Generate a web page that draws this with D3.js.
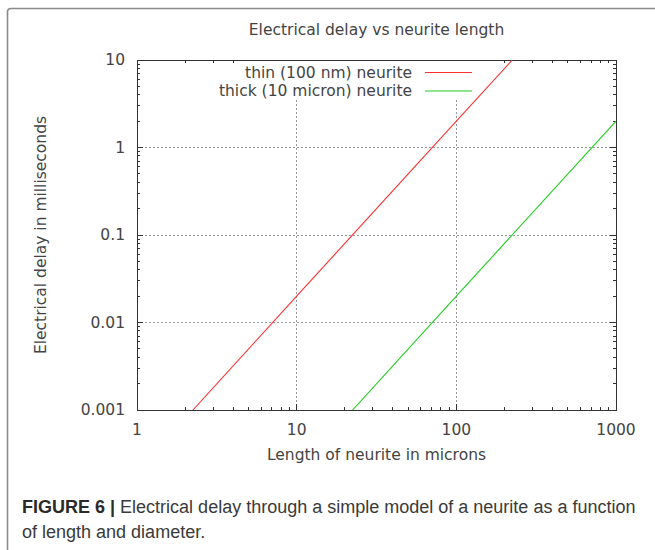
<!DOCTYPE html>
<html>
<head>
<meta charset="utf-8">
<script src="https://cdn.jsdelivr.net/npm/d3@7"></script>
<style>
  body { margin: 0; background: #fff; }
  svg text { font-family: "DejaVu Sans", sans-serif; }
  svg text.cap { font-family: "Liberation Sans", Arial, sans-serif; }
</style>
</head>
<body>
<div id="chart"></div>
<script>
// values (delay grows with length squared)
var thinX = [2.24, 10, 100, 224];
var thinY = [0.001, 0.02, 2, 10];
var thickX = [22.4, 100, 1000];
var thickY = [0.001, 0.02, 2];

var xTicks = [1, 10, 100, 1000];
var xTickLabels = ['1', '10', '100', '1000'];
var yTicks = [0.001, 0.01, 0.1, 1, 10];
var yTickLabels = ['0.001', '0.01', '0.1', '1', '10'];

var seriesNames = ['thin (100 nm) neurite', 'thick (10 micron) neurite'];
var seriesColors = ['#ff3030', '#22cc22'];

var W = 655, H = 550;
var margins = { top: 60, right: 39, bottom: 140, left: 137 };
var w = W - margins.left - margins.right;
var h = H - margins.top - margins.bottom;

var svg = d3.select('#chart').append('svg')
    .attr('width', W)
    .attr('height', H);

// figure frame (only top and left edges are inside the crop)
svg.append('path')
    .attr('d', 'M7.5,550 L7.5,12 Q7.5,8.5 11,8.5 L655,8.5')
    .attr('fill', 'none')
    .attr('stroke', '#8a8a8a')
    .attr('stroke-width', 1.6);

var x = d3.scaleLog().domain([1, 1000]).range([0, w]);
var y = d3.scaleLog().domain([0.001, 10]).range([h, 0]);

var g = svg.append('g')
    .attr('transform', 'translate(' + margins.left + ',' + margins.top + ')');

// grid
g.selectAll('line.gx')
    .data(xTicks.slice(1, -1))
    .enter().append('line')
    .attr('class', 'gx')
    .attr('x1', function (d) { return x(d); })
    .attr('x2', function (d) { return x(d); })
    .attr('y1', 0).attr('y2', h);
g.selectAll('line.gy')
    .data(yTicks.slice(1, -1))
    .enter().append('line')
    .attr('class', 'gy')
    .attr('y1', function (d) { return y(d); })
    .attr('y2', function (d) { return y(d); })
    .attr('x1', 0).attr('x2', w);
g.selectAll('line.gx, line.gy')
    .attr('stroke', '#999')
    .attr('stroke-width', 1)
    .attr('stroke-dasharray', '1.5,2.5')
    .attr('shape-rendering', 'crispEdges');

// minor + major ticks, pointing inward on all four sides
function minors (domain) {
    var out = [];
    for (var e = Math.log10(domain[0]); e < Math.log10(domain[1]); e++) {
        for (var k = 1; k < 10; k++) out.push({ v: k * Math.pow(10, e), major: k === 1 });
    }
    out.push({ v: domain[1], major: true });
    return out;
}
var xm = minors(x.domain());
var ym = minors(y.domain());
var tickG = g.append('g')
    .attr('stroke', '#333')
    .attr('stroke-width', 1)
    .attr('shape-rendering', 'crispEdges');
xm.forEach(function (d) {
    var len = d.major ? 6 : 3;
    tickG.append('line').attr('x1', x(d.v)).attr('x2', x(d.v)).attr('y1', h).attr('y2', h - len);
    tickG.append('line').attr('x1', x(d.v)).attr('x2', x(d.v)).attr('y1', 0).attr('y2', len);
});
ym.forEach(function (d) {
    var len = d.major ? 6 : 3;
    tickG.append('line').attr('y1', y(d.v)).attr('y2', y(d.v)).attr('x1', 0).attr('x2', len);
    tickG.append('line').attr('y1', y(d.v)).attr('y2', y(d.v)).attr('x1', w).attr('x2', w - len);
});

// legend background hides the grid behind it
g.append('rect')
    .attr('x', 100).attr('y', 1)
    .attr('width', 240).attr('height', 38)
    .attr('fill', '#fff');

// border
g.append('rect')
    .attr('width', w).attr('height', h)
    .attr('fill', 'none')
    .attr('stroke', '#333')
    .attr('stroke-width', 1)
    .attr('shape-rendering', 'crispEdges');

// lines
g.append('clipPath').attr('id', 'plotclip')
    .append('rect').attr('width', w).attr('height', h);

var line = d3.line()
    .x(function (d) { return x(d[0]); })
    .y(function (d) { return y(d[1]); });

var series = [d3.zip(thinX, thinY), d3.zip(thickX, thickY)];
g.selectAll('path.series')
    .data(series)
    .enter().append('path')
    .attr('class', 'series')
    .attr('clip-path', 'url(#plotclip)')
    .attr('d', line)
    .attr('fill', 'none')
    .attr('stroke', function (d, i) { return seriesColors[i]; })
    .attr('stroke-width', 1.1);

// tick labels
var fs = 15.5;
var txt = '#444';
g.selectAll('text.xl')
    .data(xTicks)
    .enter().append('text')
    .attr('class', 'xl')
    .attr('x', function (d) { return x(d); })
    .attr('y', h + 20)
    .attr('dy', '0.35em')
    .attr('text-anchor', 'middle')
    .text(function (d, i) { return xTickLabels[i]; });
g.selectAll('text.yl')
    .data(yTicks)
    .enter().append('text')
    .attr('class', 'yl')
    .attr('x', -12)
    .attr('y', function (d) { return y(d); })
    .attr('dy', '0.35em')
    .attr('text-anchor', 'end')
    .text(function (d, i) { return yTickLabels[i]; });

// legend
var leg = g.selectAll('g.leg')
    .data(seriesNames)
    .enter().append('g')
    .attr('class', 'leg')
    .attr('transform', function (d, i) { return 'translate(0,' + (12.5 + i * 18.5) + ')'; });
leg.append('text')
    .attr('x', 275)
    .attr('dy', '0.35em')
    .attr('text-anchor', 'end')
    .text(function (d) { return d; });
leg.append('line')
    .attr('x1', 288).attr('x2', 335)
    .attr('stroke', function (d, i) { return seriesColors[i]; })
    .attr('stroke-width', 1.1);

g.selectAll('text')
    .attr('font-size', fs)
    .attr('fill', txt);

// titles
svg.append('text')
    .attr('x', margins.left + w / 2).attr('y', 30)
    .attr('dy', '0.35em')
    .attr('text-anchor', 'middle')
    .attr('font-size', fs).attr('fill', txt)
    .text('Electrical delay vs neurite length');
svg.append('text')
    .attr('x', margins.left + w / 2).attr('y', 455)
    .attr('dy', '0.35em')
    .attr('text-anchor', 'middle')
    .attr('font-size', fs).attr('fill', txt)
    .text('Length of neurite in microns');
svg.append('text')
    .attr('transform', 'translate(41,' + (margins.top + h / 2) + ') rotate(-90)')
    .attr('dy', '0.35em')
    .attr('text-anchor', 'middle')
    .attr('font-size', fs).attr('fill', txt)
    .text('Electrical delay in milliseconds');

// caption, squeezed horizontally to the condensed journal face
var cap = svg.append('g').attr('class', 'caption');
var l1 = cap.append('text')
    .attr('class', 'cap')
    .attr('x', 0).attr('y', 513)
    .attr('font-size', 19)
    .attr('fill', '#3a3a3a');
l1.append('tspan').attr('font-weight', 'bold').attr('fill', '#2a2a2a').text('FIGURE 6 | ');
l1.append('tspan').text('Electrical delay through a simple model of a neurite as a function');
cap.append('text')
    .attr('class', 'cap')
    .attr('x', 0).attr('y', 538)
    .attr('font-size', 19)
    .attr('fill', '#3a3a3a')
    .text('of length and diameter.');
var k = 614 / l1.node().getComputedTextLength();
cap.attr('transform', 'translate(22,0) scale(' + k + ',1)');
</script>
</body>
</html>
